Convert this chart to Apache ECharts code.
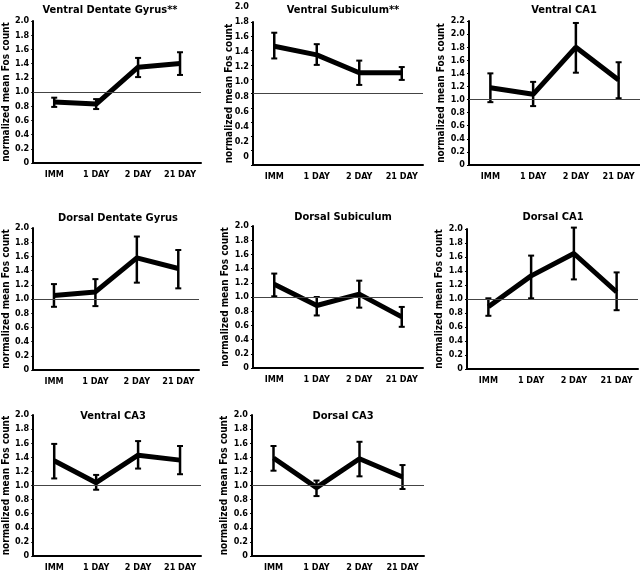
<!DOCTYPE html>
<html><head><meta charset="utf-8">
<script src="https://cdn.jsdelivr.net/npm/echarts@6/dist/echarts.min.js"></script>
<style>html,body{margin:0;padding:0;background:#fff}#c{width:640px;height:572px}</style>
</head><body><div id="c"></div>
<script>
const categories = ['IMM', '1 DAY', '2 DAY', '21 DAY'];
const yTickInterval = 0.2;
const refValue = 1.0;

const vdgMean = [0.86, 0.83, 1.35, 1.40];
const vdgLow  = [0.79, 0.76, 1.21, 1.24];
const vdgHigh = [0.92, 0.90, 1.48, 1.56];

const vsubMean = [1.66, 1.54, 1.29, 1.29];
const vsubLow  = [1.49, 1.40, 1.12, 1.19];
const vsubHigh = [1.85, 1.69, 1.46, 1.37];

const vca1Mean = [1.18, 1.08, 1.80, 1.30];
const vca1Low  = [0.96, 0.90, 1.41, 1.02];
const vca1High = [1.40, 1.27, 2.17, 1.57];

const ddgMean = [1.05, 1.10, 1.58, 1.43];
const ddgLow  = [0.89, 0.90, 1.23, 1.15];
const ddgHigh = [1.21, 1.28, 1.88, 1.69];

const dsubMean = [1.18, 0.88, 1.04, 0.72];
const dsubLow  = [1.01, 0.74, 0.85, 0.58];
const dsubHigh = [1.33, 1.00, 1.23, 0.86];

const dca1Mean = [0.89, 1.33, 1.65, 1.10];
const dca1Low  = [0.76, 1.01, 1.28, 0.84];
const dca1High = [1.01, 1.62, 2.02, 1.38];

const vca3Mean = [1.35, 1.04, 1.43, 1.36];
const vca3Low  = [1.10, 0.94, 1.24, 1.16];
const vca3High = [1.59, 1.15, 1.63, 1.56];

const dca3Mean = [1.39, 0.97, 1.38, 1.12];
const dca3Low  = [1.21, 0.85, 1.13, 0.95];
const dca3High = [1.56, 1.07, 1.62, 1.29];

const panelTitles = ['Ventral Dentate Gyrus**', 'Ventral Subiculum**', 'Ventral CA1',
  'Dorsal Dentate Gyrus', 'Dorsal Subiculum', 'Dorsal CA1', 'Ventral CA3', 'Dorsal CA3'];
const panelMax = [2.0, 2.0, 2.2, 2.0, 2.0, 2.0, 2.0, 2.0];
const yAxisName = 'normalized mean Fos count';

const means = [vdgMean, vsubMean, vca1Mean, ddgMean, dsubMean, dca1Mean, vca3Mean, dca3Mean];
const lows  = [vdgLow, vsubLow, vca1Low, ddgLow, dsubLow, dca1Low, vca3Low, dca3Low];
const highs = [vdgHigh, vsubHigh, vca1High, ddgHigh, dsubHigh, dca1High, vca3High, dca3High];

// layout (pixels)
const grids = [
  {left: 28, top: 21, width: 173, height: 142},
  {left: 253, top: 22, width: 170, height: 143},
  {left: 469, top: 21, width: 171, height: 144},
  {left: 26, top: 228, width: 173, height: 142},
  {left: 253, top: 226, width: 170, height: 142},
  {left: 467, top: 229, width: 171, height: 140},
  {left: 29, top: 415, width: 172, height: 143},
  {left: 252, top: 415, width: 172, height: 143}
];
const titlePos = [[105, 0], [338, 0], [559, 0], [113, 208], [338, 207], [548, 207], [108, 406], [338, 406]];

const FONT = "'Liberation Sans Narrow','DejaVu Sans Condensed','Arial Narrow',sans-serif";
const fmt = v => (Math.abs(v) < 1e-9 ? '0' : v.toFixed(1));

const option = {
  animation: false,
  backgroundColor: '#fff',
  title: [], grid: [], xAxis: [], yAxis: [], series: []
};

for (let i = 0; i < 8; i++) {
  option.title.push({
    text: panelTitles[i], left: titlePos[i][0], top: titlePos[i][1], textAlign: 'center',
    textStyle: {fontFamily: FONT, fontWeight: 'bold', fontSize: 11, color: '#000'}
  });
  option.grid.push(Object.assign({containLabel: false}, grids[i]));
  option.xAxis.push({
    type: 'category', gridIndex: i, data: categories, boundaryGap: true,
    axisLine: {lineStyle: {color: '#000', width: 2}}, axisTick: {show: false},
    axisLabel: {interval: 0, fontFamily: FONT, fontWeight: 'bold', fontSize: 9, color: '#000', margin: 7}
  });
  const shifted = (i === 1);
  option.yAxis.push({
    type: 'value', gridIndex: i, min: 0, max: panelMax[i], interval: yTickInterval,
    axisLine: {show: true, lineStyle: {color: '#000', width: 2}},
    axisTick: {show: true, length: 2, lineStyle: {color: '#000', width: 1}},
    splitLine: {show: false},
    axisLabel: {show: !shifted, formatter: fmt, fontFamily: FONT, fontWeight: 'bold', fontSize: 9, color: '#000', margin: 4},
    name: yAxisName, nameLocation: 'middle', nameRotate: 90, nameGap: 19,
    nameTextStyle: {fontFamily: FONT, fontWeight: 'bold', fontSize: 10, color: '#000'}
  });
  option.series.push({
    type: 'line', xAxisIndex: i, yAxisIndex: i, data: means[i],
    symbol: 'none', lineStyle: {color: '#000', width: 5}, z: 3,
    markLine: {
      silent: true, symbol: 'none', label: {show: false},
      lineStyle: {color: '#444', width: 1, type: 'solid'},
      data: [{yAxis: refValue}]
    }
  });
  option.series.push({
    type: 'custom', xAxisIndex: i, yAxisIndex: i, z: 4,
    encode: {x: 0, y: [1, 2]},
    data: categories.map((c, k) => [k, lows[i][k], highs[i][k]]),
    renderItem: (params, api) => {
      const x = api.value(0);
      const top = api.coord([x, api.value(2)]);
      const bot = api.coord([x, api.value(1)]);
      const w = 3;
      const st = {stroke: '#000', lineWidth: 2.5};
      return {type: 'group', children: [
        {type: 'line', shape: {x1: top[0], y1: top[1], x2: bot[0], y2: bot[1]}, style: st},
        {type: 'line', shape: {x1: top[0] - w, y1: top[1], x2: top[0] + w, y2: top[1]}, style: {stroke: '#000', lineWidth: 2}},
        {type: 'line', shape: {x1: bot[0] - w, y1: bot[1], x2: bot[0] + w, y2: bot[1]}, style: {stroke: '#000', lineWidth: 2}}
      ]};
    }
  });
}

// Ventral Subiculum: tick labels printed offset above the axis ticks (as in the original)
option.grid.push({left: 253, top: 7, width: 10, height: 150});
option.xAxis.push({type: 'category', gridIndex: 8, data: [''], show: false});
option.yAxis.push({
  type: 'value', gridIndex: 8, min: 0, max: 2.0, interval: yTickInterval,
  axisLine: {show: false}, axisTick: {show: false}, splitLine: {show: false},
  axisLabel: {formatter: fmt, fontFamily: FONT, fontWeight: 'bold', fontSize: 9, color: '#000', margin: 4}
});

echarts.init(document.getElementById('c'), null, {renderer: 'canvas'}).setOption(option);
</script></body></html>
